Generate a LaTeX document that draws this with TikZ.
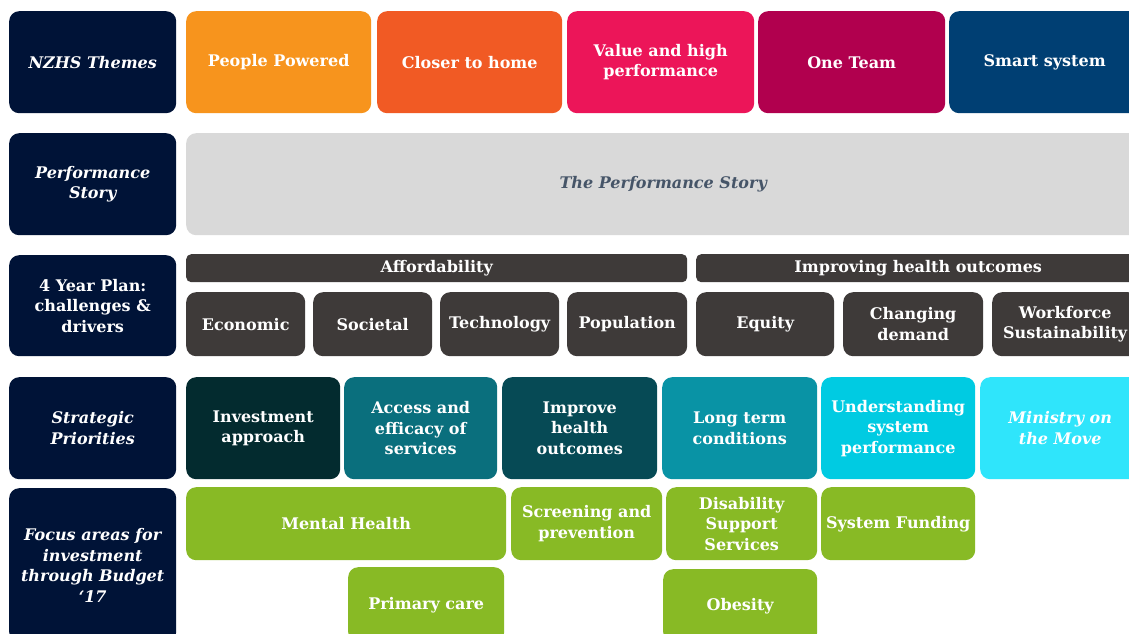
\documentclass[tikz,border=0pt]{standalone}
\usepackage{fontspec}
\setmainfont{DejaVu Serif}
\definecolor{navy}{HTML}{001337}
\definecolor{cOrange}{HTML}{F7941D}
\definecolor{cRedOr}{HTML}{F15A24}
\definecolor{cPink}{HTML}{EC1559}
\definecolor{cMaroon}{HTML}{B1004E}
\definecolor{cBlue}{HTML}{003F73}
\definecolor{cGrey}{HTML}{D9D9D9}
\definecolor{cSlate}{HTML}{465568}
\definecolor{cDark}{HTML}{3E3A39}
\definecolor{tA}{HTML}{032B2F}
\definecolor{tB}{HTML}{0A6F7D}
\definecolor{tC}{HTML}{064A55}
\definecolor{tD}{HTML}{0993A5}
\definecolor{tE}{HTML}{00CBE2}
\definecolor{tF}{HTML}{2FE5FB}
\definecolor{cGreen}{HTML}{88BA25}
\tikzset{
  box/.style={rounded corners=10pt, inner sep=2pt, align=center, text=white,
    font=\bfseries\fontsize{16}{20.5}\selectfont, anchor=north west, draw=none},
  itfont/.style={font=\bfseries\itshape\fontsize{16}{20.5}\selectfont},
  lab/.style={box, fill=navy, minimum width=167pt},
  labit/.style={lab, itfont},
  bar/.style={box, fill=cDark, rounded corners=5pt, minimum height=28pt},
  drv/.style={box, fill=cDark, minimum height=64pt},
  pri/.style={box, minimum height=102pt},
  grn/.style={box, fill=cGreen, minimum height=73pt}
}
\begin{document}
\begin{tikzpicture}[x=1pt,y=-1pt]
\clip (0,0) rectangle (1129,634);
\fill[white] (0,0) rectangle (1129,634);
% Row 1
\node[labit, minimum height=102pt] (lab1) at (9,11) {NZHS Themes};
\node[pri, fill=cOrange, minimum width=185pt] (pp) at (186,11) {People Powered};
\node[pri, fill=cRedOr, minimum width=185pt] (cth) at (377,11) {Closer to home};
\node[pri, fill=cPink, minimum width=187pt] (val) at (567,11) {Value and high\\performance};
\node[pri, fill=cMaroon, minimum width=187pt] (one) at (758,11) {One Team};
\node[pri, fill=cBlue, minimum width=191pt] (smart) at (949,11) {Smart system};
% Row 2
\node[labit, minimum height=102pt] (lab2) at (9,133) {Performance\\Story};
\node[pri, fill=cGrey, text=cSlate, itfont, minimum width=954pt] (perf) at (186,133) {The Performance Story};
% Row 3
\node[lab, minimum height=101pt] (lab3) at (9,255) {4 Year Plan:\\challenges \&\\drivers};
\node[bar, minimum width=501pt] (aff) at (186,254) {Affordability};
\node[bar, minimum width=444pt] (imp) at (696,254) {Improving health outcomes};
\node[drv, minimum width=119pt] (eco) at (186,292) {Economic};
\node[drv, minimum width=119pt] (soc) at (313,292) {Societal};
\node[drv, minimum width=119pt] (tech) at (440,292) {Technology};
\node[drv, minimum width=120pt] (pop) at (567,292) {Population};
\node[drv, minimum width=138pt] (eq) at (696,292) {Equity};
\node[drv, minimum width=140pt] (chg) at (843,292) {Changing\\demand};
\node[drv, minimum width=146pt] (wf) at (992,292) {Workforce\\Sustainability};
% Row 4
\node[labit, minimum height=102pt] (lab4) at (9,377) {Strategic\\Priorities};
\node[pri, fill=tA, minimum width=154pt] (inv) at (186,377) {Investment\\approach};
\node[pri, fill=tB, minimum width=153pt] (acc) at (344,377) {Access and\\efficacy of\\services};
\node[pri, fill=tC, minimum width=155pt] (impr) at (502,377) {Improve\\health\\outcomes};
\node[pri, fill=tD, minimum width=155pt] (lt) at (662,377) {Long term\\conditions};
\node[pri, fill=tE, minimum width=154pt] (und) at (821,377) {Understanding\\system\\performance};
\node[pri, fill=tF, itfont, minimum width=160pt] (min) at (980,377) {Ministry on\\the Move};
% Row 5
\node[labit, minimum height=154pt] (lab5) at (9,488) {Focus areas for\\investment\\through Budget\\‘17};
\node[grn, minimum width=320pt] (mh) at (186,487) {Mental Health};
\node[grn, minimum width=151pt] (scr) at (511,487) {Screening and\\prevention};
\node[grn, minimum width=151pt] (dis) at (666,487) {Disability\\Support\\Services};
\node[grn, minimum width=154pt] (sf) at (821,487) {System Funding};
\node[grn, minimum width=156pt, minimum height=75pt] (pc) at (348,567) {Primary care};
\node[grn, minimum width=154pt] (ob) at (663,569) {Obesity};
\end{tikzpicture}
\end{document}
